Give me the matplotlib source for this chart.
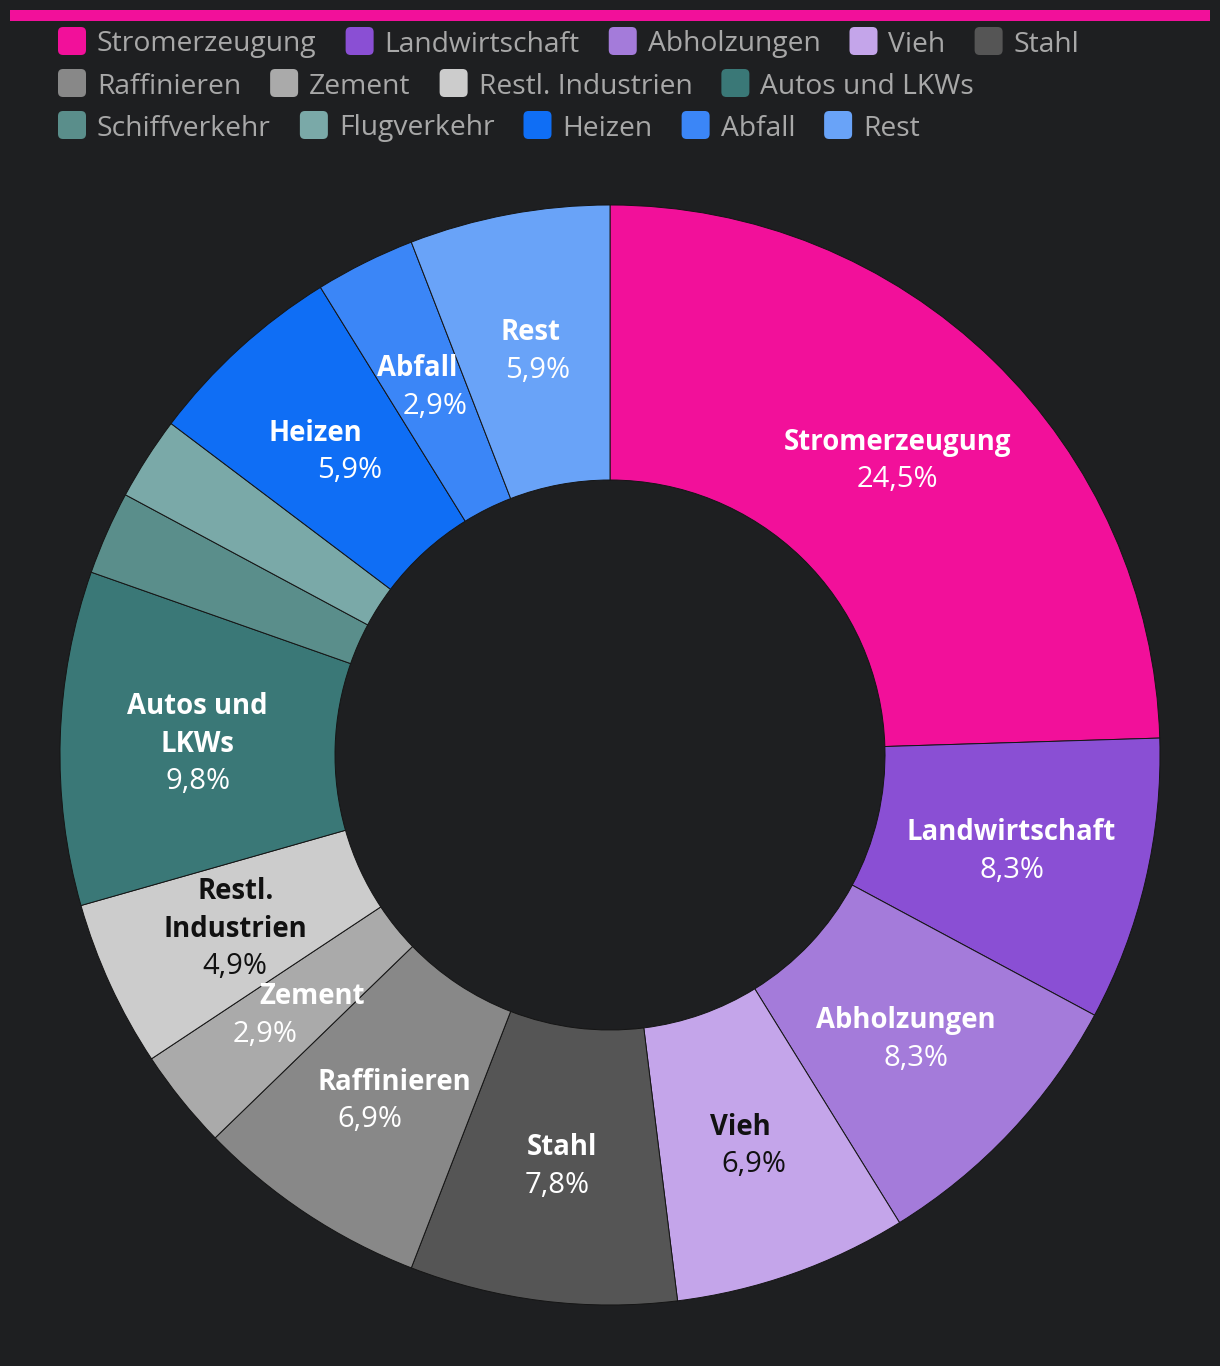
import textwrap
import matplotlib
matplotlib.use("Agg")
import matplotlib.pyplot as plt
import numpy as np
from matplotlib.patches import FancyBboxPatch, Rectangle
from matplotlib.colors import to_rgb

plt.rcParams['font.family'] = ['Open Sans', 'DejaVu Sans']

# Daten (Anteile, werden in Prozent umgerechnet)
labels = ['Stromerzeugung', 'Landwirtschaft', 'Abholzungen', 'Vieh', 'Stahl',
          'Raffinieren', 'Zement', 'Restl. Industrien', 'Autos und LKWs',
          'Schiffverkehr', 'Flugverkehr', 'Heizen', 'Abfall', 'Rest']
values = [25, 8.5, 8.5, 7, 8, 7, 3, 5, 10, 2.5, 2.5, 6, 3, 6]
colors = ['#f2109a', '#8a4fd4', '#a47bda', '#c4a5ea', '#555555',
          '#888888', '#aaaaaa', '#cccccc', '#3a7877',
          '#5a8e8b', '#7aa9a8', '#0f6ef5', '#3b86f7', '#69a3f8']
legend_rows = [5, 4, 5]

# Layout (Pixel)
W, H = 1220, 1366
bg = '#1e1f21'
cx, cy = 610, 755
r_out, r_in = 550, 275
line_h = 37.5
min_pct = 2.6
# wie stark die Zeilen der Beschriftung dem Strahl folgen
skew = [0, 0, 0.25, 1, 1, 1, 1, 0, 0, 1, 1, 1, 1, 1]

fig = plt.figure(figsize=(W / 100, H / 100), dpi=100, facecolor=bg)
ax = fig.add_axes([0, 0, 1, 1])
ax.set_facecolor(bg)

wedges, _ = ax.pie(values, colors=colors, startangle=90, counterclock=False,
                   center=(cx, H - cy), radius=r_out,
                   wedgeprops=dict(width=r_out - r_in, edgecolor='#151515', linewidth=0.7))
ax.set_xlim(0, W)
ax.set_ylim(0, H)
ax.set_aspect('equal')
ax.axis('off')

total = sum(values)
r_mid = (r_out + r_in) / 2
for i, w in enumerate(wedges):
    pct = values[i] / total * 100
    if pct < min_pct:
        continue
    m = np.deg2rad((w.theta1 + w.theta2) / 2)
    bx = cx + r_mid * np.cos(m)
    by = (H - cy) + r_mid * np.sin(m) - 2
    rgb = to_rgb(colors[i])
    bright = 0.299 * rgb[0] + 0.587 * rgb[1] + 0.114 * rgb[2]
    tc = '#111111' if bright > 0.69 else 'white'
    name_lines = textwrap.wrap(labels[i], 10, break_long_words=False)
    lines = [(s, 'bold', 19.8) for s in name_lines] + \
            [(f"{pct:.1f}".replace('.', ',') + '%', 'normal', 21)]
    n = len(lines)
    for k, (s, fw, fs) in enumerate(lines):
        oy = ((n - 1) / 2 - k) * line_h
        ox = skew[i] * oy * np.cos(m) / np.sin(m) if abs(np.sin(m)) > 1e-6 else 0
        ax.text(bx + ox, by + oy, s, color=tc, fontsize=fs, fontweight=fw,
                ha='center', va='center')

# Balken oben
ax.add_patch(Rectangle((10, H - 21), 1200, 11, color=colors[0], lw=0))

# Legende
fig.canvas.draw()
renderer = fig.canvas.get_renderer()
idx = 0
for row, cnt in enumerate(legend_rows):
    y = H - (41 + row * 42)
    x = 58
    for _ in range(cnt):
        ax.add_patch(FancyBboxPatch((x + 4, y - 10), 20, 20,
                                    boxstyle='round,pad=4,rounding_size=5',
                                    color=colors[idx], lw=0))
        t = ax.text(x + 39, y, labels[idx], color='#a8a8a8', fontsize=20.3,
                    ha='left', va='center_baseline')
        bb = t.get_window_extent(renderer)
        x = x + 39 + bb.width + 29
        idx += 1

fig.savefig('out.png', dpi=100, facecolor=bg)
